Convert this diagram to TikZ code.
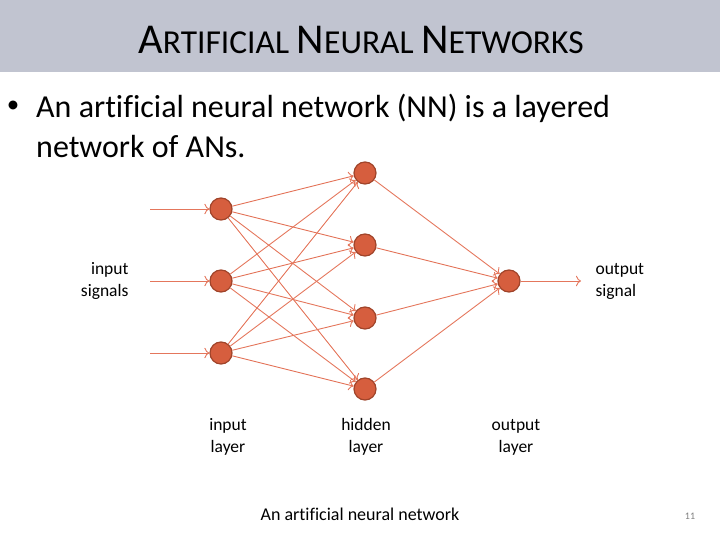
\documentclass[tikz,border=0pt]{standalone}
\usepackage{fontspec}
\setmainfont{Carlito}[Ligatures=NoCommon]
\usepackage{tikz}
\usetikzlibrary{arrows.meta}
\definecolor{barGray}{RGB}{193,196,208}
\definecolor{unitFill}{RGB}{214,94,62}
\definecolor{unitLine}{RGB}{160,68,42}
\definecolor{linkRed}{RGB}{228,118,92}
\tikzset{unit/.style={circle,fill=unitFill,draw=unitLine,line width=1.2pt,
                      minimum size=22pt,inner sep=0pt}}
\tikzset{label/.style={align=center,font=\fontsize{17.5}{22}\selectfont}}
\newcommand{\bigsc}[1]{{\fontsize{42.5}{46}\selectfont #1}}
\newcommand{\smallsc}[1]{{\fontsize{33.5}{46}\selectfont #1}}

\begin{document}
\begin{tikzpicture}[x=1pt,y=-1pt]
  \useasboundingbox (0,0) rectangle (720,540);

  \tikzstyle{link}=[-{To[scale=1.4]},linkRed,line width=0.9pt];

  % title bar
  \fill[barGray] (0,0) rectangle (720,72);
  \node[font=\fontsize{33.5}{46}\selectfont] (title) at (361,40)
    {\bigsc{A}\smallsc{RTIFICIAL} \bigsc{N}\smallsc{EURAL} \bigsc{N}\smallsc{ETWORKS}};

  % bullet
  \node[inner sep=0pt] (bullet) at (13,107) {\fontsize{25}{30}\selectfont\textbullet};
  \node[anchor=north west,align=left,inner sep=0pt,font=\fontsize{32}{40}\selectfont] (text) at (36,94)
    {An artificial neural network (NN) is a layered\\network of ANs.};

  % units
  \node (in1) at (221,209)[unit]{};
  \node (in2) at (221,281)[unit]{};
  \node (in3) at (221,353)[unit]{};

  \node (hid1) at (365,173)[unit]{};
  \node (hid2) at (365,245)[unit]{};
  \node (hid3) at (365,318)[unit]{};
  \node (hid4) at (365,389)[unit]{};

  \node (out) at (509,281)[unit]{};

  \coordinate (sig1) at (150,209);
  \coordinate (sig2) at (150,281);
  \coordinate (sig3) at (150,353);
  \coordinate (res) at (581,281);

  % connections
  \draw[link] (sig1) -- (in1);
  \draw[link] (sig2) -- (in2);
  \draw[link] (sig3) -- (in3);

  \draw[link] (in1) -- (hid1);
  \draw[link] (in1) -- (hid2);
  \draw[link] (in1) -- (hid3);
  \draw[link] (in1) -- (hid4);
  \draw[link] (in2) -- (hid1);
  \draw[link] (in2) -- (hid2);
  \draw[link] (in2) -- (hid3);
  \draw[link] (in2) -- (hid4);
  \draw[link] (in3) -- (hid1);
  \draw[link] (in3) -- (hid2);
  \draw[link] (in3) -- (hid3);
  \draw[link] (in3) -- (hid4);

  \draw[link] (hid1) -- (out);
  \draw[link] (hid2) -- (out);
  \draw[link] (hid3) -- (out);
  \draw[link] (hid4) -- (out);

  \draw[link] (out) -- (res);

  % labels
  \node[label,align=right,anchor=east] (insig) at (132,281) {input\\signals};
  \node[label,align=left,anchor=west] (outsig) at (592,281) {output\\signal};
  \node[label] (inlayer) at (228,437) {input\\layer};
  \node[label] (hidlayer) at (366,437) {hidden\\layer};
  \node[label] (outlayer) at (516,437) {output\\layer};

  \node[font=\fontsize{18}{20}\selectfont] (caption) at (360,514) {An artificial neural network};
  \node[font=\fontsize{10}{11}\selectfont,text=gray] (page) at (690,516) {11};
\end{tikzpicture}
\end{document}
